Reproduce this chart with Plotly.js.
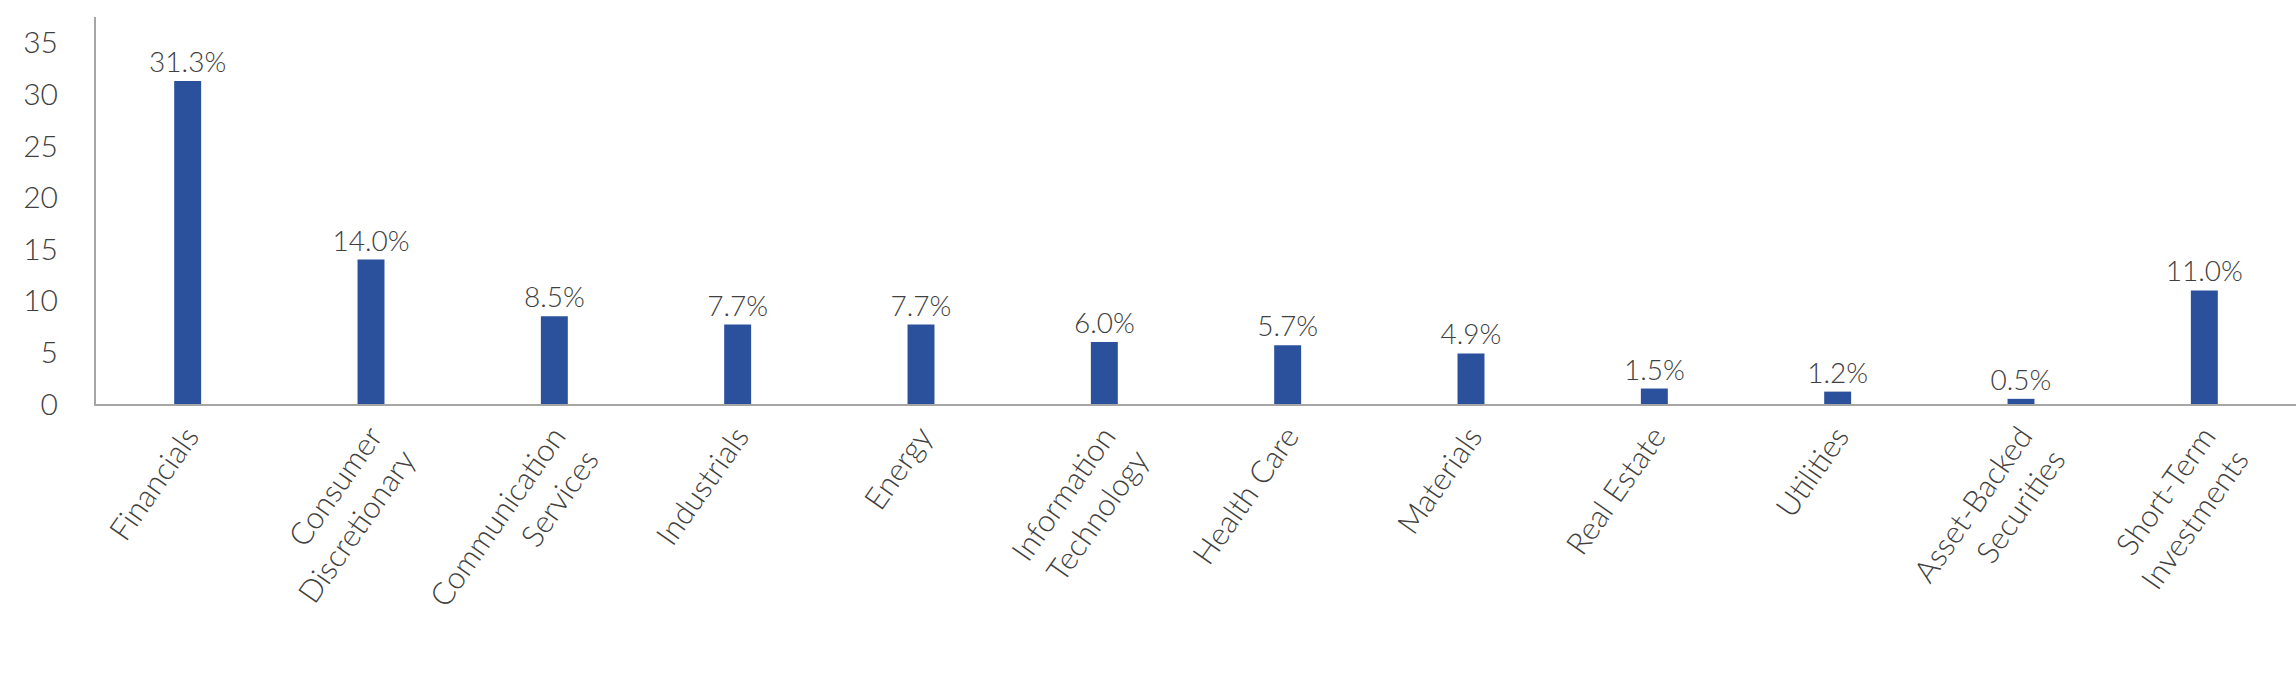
<!DOCTYPE html>
<html>
<head>
<meta charset="utf-8">
<script src="https://cdn.plot.ly/plotly-3.0.1.min.js"></script>
<style>html,body{margin:0;padding:0;background:#fff;}#chart{width:2296px;height:692px;}</style>
</head>
<body>
<div id="chart"></div>
<script>
const categories = ["Financials", "Consumer<br>Discretionary", "Communication<br>Services", "Industrials", "Energy", "Information<br>Technology", "Health Care", "Materials", "Real Estate", "Utilities", "Asset-Backed<br>Securities", "Short-Term<br>Investments"];
const values = [31.3, 14.0, 8.5, 7.7, 7.7, 6.0, 5.7, 4.9, 1.5, 1.2, 0.5, 11.0];
const valueLabels = values.map(v => v.toFixed(1) + "%");
const yTicks = [0, 5, 10, 15, 20, 25, 30, 35];

const textColor = "#404040";
const fontFam = "Lato, 'Open Sans', sans-serif";

const trace = {
  type: "bar",
  x: categories,
  y: values,
  text: valueLabels,
  textposition: "outside",
  constraintext: "none",
  cliponaxis: false,
  textfont: {family: fontFam, size: 28, color: textColor, weight: 300},
  marker: {color: "#2B519D"},
  width: 0.147,
  hoverinfo: "none"
};

const layout = {
  width: 2296,
  height: 692,
  margin: {l: 96, r: 0, t: 17, b: 288},
  paper_bgcolor: "#fff",
  plot_bgcolor: "#fff",
  showlegend: false,
  font: {family: fontFam, color: textColor, weight: 300},
  xaxis: {
    type: "category",
    showline: true,
    linecolor: "#A6A6A6",
    linewidth: 2,
    ticks: "",
    tickangle: -55,
    tickfont: {family: fontFam, size: 31, color: textColor, weight: 300},
    showgrid: false,
    zeroline: false
  },
  yaxis: {
    range: [0, 37.5],
    tickvals: yTicks,
    ticktext: yTicks.map(String),
    showline: true,
    linecolor: "#A6A6A6",
    linewidth: 2,
    ticks: "",
    ticklabelstandoff: 30,
    tickfont: {family: fontFam, size: 30, color: textColor, weight: 300},
    showgrid: false,
    zeroline: false
  }
};

Plotly.newPlot("chart", [trace], layout, {displayModeBar: false, staticPlot: true});
</script>
</body>
</html>
